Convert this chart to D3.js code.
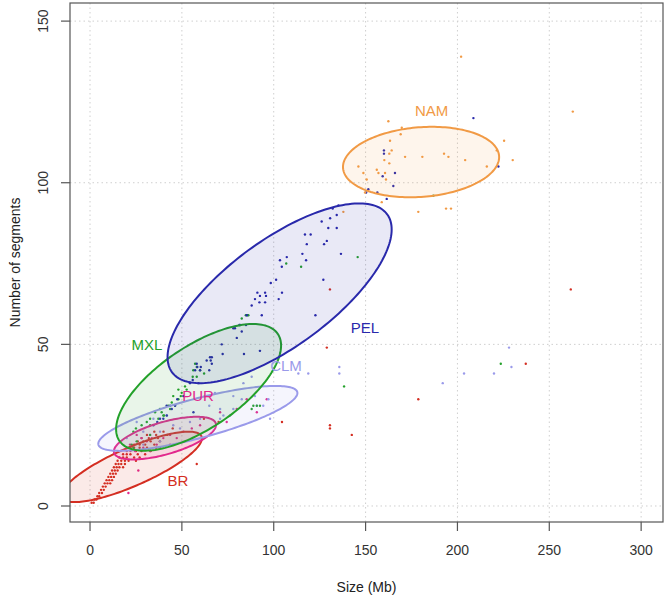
<!DOCTYPE html>
<html lang="en">
<head>
    <meta charset="UTF-8">
    <title>Segments vs size</title>
    <script src="https://d3js.org/d3.v7.min.js"></script>
    <style>
        body { margin: 0; padding: 0; background: #fff; }
        text { font-family: "Liberation Sans", Arial, sans-serif; }
        .tick-label { font-size: 14px; fill: #333; }
        .axis-title { font-size: 14px; fill: #222; }
        .pop-label { font-size: 15px; }
    </style>
</head>
<body>
<div id="chart"></div>
<script>
    // Populations, colours, ellipse summaries (mean, half-range, correlation)
    const pops = ["BR", "PUR", "CLM", "MXL", "PEL", "NAM"];
    const popColors = ["#d42e22", "#e2288c", "#9a9aea", "#23a12a", "#2929ab", "#f19a45"];
    const ellCx = [22.6, 40.8, 58.7, 59.1, 103.2, 180.2];
    const ellCy = [12.1, 21.0, 27.1, 36.7, 65.8, 106.4];
    const ellHx = [38.3, 27.8, 54.2, 44.9, 61.0, 42.5];
    const ellHy = [10.9, 6.6, 10.05, 19.6, 27.8, 10.9];
    const ellRho = [0.81, 0.62, 0.78, 0.66, 0.71, 0.14];
    const labelX = [47.9, 58.8, 106.7, 31.0, 149.7, 186.0];
    const labelY = [7.7, 34.0, 43.3, 49.8, 55.1, 122.4];

    const xTicks = [0, 50, 100, 150, 200, 250, 300];
    const yTicks = [0, 50, 100, 150];

    // points, [size Mb, number of segments]
    const brPts = [
        [0.9, 1], [2.0, 1], [2.5, 2], [3.5, 2], [4, 3], [5, 3], [5, 4], [6.5, 4], [6, 5], [7.5, 5],
        [7, 6], [8.5, 6], [8, 7], [9.5, 7], [11, 7], [9, 8], [10.5, 8], [12, 8], [10, 9], [11.5, 9],
        [13, 9], [11, 10], [12.5, 10], [14, 10], [12, 11], [13.5, 11], [15, 11], [13, 12], [14.5, 12],
        [16, 12], [18, 12], [14, 13], [15.5, 13], [17, 13], [19, 13], [15, 14], [17, 14], [19, 14],
        [21, 14], [25, 14], [16, 15], [18, 15], [20, 15], [24, 15], [27, 15], [18, 16], [20, 16],
        [22, 16], [26, 16], [30, 16], [20, 17], [22, 17], [25, 17], [28, 17], [33, 17], [22, 18],
        [24, 18], [27, 18], [31, 18], [36, 18], [24, 19], [27, 19], [30, 19], [35, 19], [26, 20],
        [29, 20], [33, 20], [38, 20], [28, 21], [32, 21], [37, 21], [31, 22], [36, 22], [42, 22],
        [35, 23], [40, 23], [45, 24], [62, 27], [70, 26], [58.1, 13],
        [104.5, 26], [128.9, 49], [130.6, 67], [130.6, 25], [130.6, 24], [142.5, 22], [178.7, 33],
        [237.2, 44], [261.7, 67]
    ];
    const purPts = [
        [25.4, 22], [28.1, 21], [30.9, 20], [33.6, 21], [36.3, 19], [39.9, 21], [43.6, 22], [47.2, 21],
        [50.8, 23], [55.4, 24], [59.9, 25], [21.8, 19], [24.5, 17], [29.0, 18], [32.7, 17], [38.1, 18],
        [43.6, 19], [26.3, 11], [74.4, 26], [70.8, 29], [79.9, 30], [85.3, 33], [96.2, 33], [90.8, 29],
        [20.9, 4]
    ];
    const clmPts = [
        [88.0, 40], [92.5, 48], [97.1, 33], [98.0, 27], [70.8, 30], [78.0, 30], [82.6, 33], [68.0, 35],
        [90.8, 31], [113.4, 41], [118.8, 41], [135.7, 43], [135.7, 41], [192.0, 38], [203.6, 41],
        [219.9, 41], [228.1, 49], [229.4, 43], [94.3, 31], [89.8, 34], [83.5, 38], [76.2, 28],
        [72.6, 28], [70.8, 27], [78.0, 34], [64.9, 31], [29.0, 23], [32.7, 22], [38.1, 23], [45.3, 25],
        [49.0, 24], [54.4, 26], [59.9, 27], [25.4, 26], [34.5, 27], [41.8, 28], [38.1, 20], [29.0, 19],
        [20.0, 21]
    ];
    const mxlPts = [
        [82.6, 58], [84.8, 59], [57.2, 44], [59.9, 42], [62.1, 41], [58.1, 40], [55.9, 40], [51.7, 37],
        [52.6, 36], [49.4, 34], [48.1, 33], [44.5, 32], [46.3, 31], [39.0, 29], [39.9, 28], [37.2, 27],
        [88.9, 31], [90.8, 31], [86.2, 59], [56.2, 42], [58.1, 43], [48.1, 36], [49.9, 35], [45.3, 34],
        [42.6, 31], [38.1, 30], [35.4, 29], [32.7, 27], [30.9, 26], [28.1, 25], [25.0, 24], [23.6, 23],
        [88.0, 30], [92.5, 31], [23.6, 18], [32.7, 25], [40.3, 28], [43.6, 30], [25.4, 20], [22.7, 19],
        [32.7, 22], [106.8, 75], [114.9, 74], [145.7, 77], [85.6, 59], [138.3, 37], [223.6, 44],
        [186.9, 96]
    ];
    const pelPts = [
        [135.2, 93], [126.1, 88], [130.7, 89], [134.3, 90], [129.7, 86], [134.3, 86], [117.0, 84],
        [120.1, 84], [118.0, 81], [127.4, 81], [128.9, 82], [115.6, 78], [117.6, 76], [136.6, 78],
        [103.4, 76], [107.1, 77], [104.4, 74], [101.3, 70], [98.4, 69], [91.1, 66], [95.3, 66],
        [92.5, 65], [95.8, 65], [89.8, 64], [92.2, 63], [95.3, 63], [88.0, 62], [104.5, 66], [102.7, 64],
        [93.5, 59], [127.0, 70], [122.7, 59], [81.7, 56], [84.9, 56], [78.9, 55], [132.1, 92],
        [83.8, 47], [72.2, 47], [66.3, 46], [65.7, 45], [64.9, 42], [58.1, 44], [60.3, 43], [92.5, 48],
        [79.9, 52], [85.3, 59], [81.3, 56], [78.0, 55], [82.6, 54], [71.7, 50], [65.3, 46], [63.5, 45],
        [66.3, 44], [58.4, 43], [59.9, 42], [57.2, 42], [55.9, 39], [59.0, 38], [54.4, 38], [50.8, 34],
        [47.5, 33], [43.6, 31], [44.5, 30], [41.8, 28], [39.9, 27], [38.1, 27], [36.6, 26], [34.5, 25],
        [41.7, 31], [46.3, 31], [56.3, 29],
        [160.0, 110], [160.0, 109], [166.0, 103], [159.3, 102], [165.1, 99], [151.5, 98], [150.3, 97],
        [156.4, 97], [161.5, 95], [208.7, 120], [222.3, 105]
    ];
    const namPts = [
        [202.0, 139], [162.4, 119], [169.7, 117], [169.1, 115], [163.3, 113], [164.2, 110], [162.9, 109],
        [160.2, 107], [162.9, 106], [171.5, 108], [180.9, 108], [192.7, 109], [195.1, 108], [204.2, 107],
        [216.0, 105], [225.4, 113], [230.1, 107], [262.8, 122], [146.1, 105], [148.8, 103], [156.1, 104],
        [157.0, 103], [160.6, 103], [150.6, 101], [161.1, 101], [149.7, 97], [158.8, 94], [178.7, 91],
        [193.8, 92], [196.5, 92], [221.4, 110], [137.9, 91]
    ];
    const popPts = [brPts, purPts, clmPts, mxlPts, pelPts, namPts];

    const width = 666, height = 597;
    const mLeft = 70, mRight = 663, mTop = 3, mBottom = 522;

    const x = d3.scaleLinear().domain([-10.9, 311.9]).range([mLeft, mRight]);
    const y = d3.scaleLinear().domain([-4.95, 155.6]).range([mBottom, mTop]);

    const svg = d3.select("#chart").append("svg")
        .attr("width", width)
        .attr("height", height);

    svg.append("clipPath").attr("id", "plotclip")
        .append("rect")
        .attr("x", mLeft).attr("y", mTop)
        .attr("width", mRight - mLeft).attr("height", mBottom - mTop);

    // grid
    const grid = svg.append("g").attr("stroke", "#cfcfcf").attr("stroke-width", 1)
        .attr("stroke-dasharray", "1.5,3");
    grid.selectAll(".gx").data(xTicks).join("line")
        .attr("class", "gx")
        .attr("x1", d => x(d)).attr("x2", d => x(d))
        .attr("y1", mTop).attr("y2", mBottom);
    grid.selectAll(".gy").data(yTicks).join("line")
        .attr("class", "gy")
        .attr("x1", mLeft).attr("x2", mRight)
        .attr("y1", d => y(d)).attr("y2", d => y(d));

    const plot = svg.append("g").attr("clip-path", "url(#plotclip)");

    // points
    popPts.forEach((pts, i) => {
        plot.append("g").attr("fill", popColors[i])
            .selectAll("circle").data(pts).join("circle")
            .attr("cx", d => x(d[0]))
            .attr("cy", d => y(d[1]))
            .attr("r", 1.2);
    });

    // ellipses
    const line = d3.line().x(d => x(d[0])).y(d => y(d[1])).curve(d3.curveLinearClosed);
    const ts = d3.range(0, 2 * Math.PI, Math.PI / 90);
    pops.forEach((p, i) => {
        const s = Math.sqrt(1 - ellRho[i] * ellRho[i]);
        const ring = ts.map(t => [
            ellCx[i] + ellHx[i] * Math.cos(t),
            ellCy[i] + ellHy[i] * (ellRho[i] * Math.cos(t) + s * Math.sin(t))
        ]);
        plot.append("path")
            .attr("d", line(ring))
            .attr("fill", popColors[i])
            .attr("fill-opacity", 0.1)
            .attr("stroke", popColors[i])
            .attr("stroke-width", 2);
    });

    // population labels
    svg.selectAll(".pop-label").data(pops).join("text")
        .attr("class", "pop-label")
        .attr("x", (d, i) => x(labelX[i]))
        .attr("y", (d, i) => y(labelY[i]))
        .attr("dy", "0.35em")
        .attr("text-anchor", "middle")
        .attr("fill", (d, i) => popColors[i])
        .text(d => d);

    // box
    svg.append("rect")
        .attr("x", mLeft).attr("y", mTop)
        .attr("width", mRight - mLeft).attr("height", mBottom - mTop)
        .attr("fill", "none").attr("stroke", "#555").attr("stroke-width", 1.2);

    // x axis
    const xa = svg.append("g").attr("transform", `translate(0,${mBottom})`);
    xa.selectAll("line").data(xTicks).join("line")
        .attr("x1", d => x(d)).attr("x2", d => x(d))
        .attr("y1", 0).attr("y2", 9)
        .attr("stroke", "#555").attr("stroke-width", 1.2);
    xa.selectAll("text").data(xTicks).join("text")
        .attr("class", "tick-label")
        .attr("x", d => x(d)).attr("y", 33)
        .attr("text-anchor", "middle")
        .text(d => d);

    // y axis
    const ya = svg.append("g").attr("transform", `translate(${mLeft},0)`);
    ya.selectAll("line").data(yTicks).join("line")
        .attr("x1", -9).attr("x2", 0)
        .attr("y1", d => y(d)).attr("y2", d => y(d))
        .attr("stroke", "#555").attr("stroke-width", 1.2);
    ya.selectAll("text").data(yTicks).join("text")
        .attr("class", "tick-label")
        .attr("transform", d => `translate(-22,${y(d)}) rotate(-90)`)
        .attr("text-anchor", "middle")
        .text(d => d);

    svg.append("text")
        .attr("class", "axis-title")
        .attr("x", (mLeft + mRight) / 2).attr("y", 592)
        .attr("text-anchor", "middle")
        .text("Size (Mb)");

    svg.append("text")
        .attr("class", "axis-title")
        .attr("transform", `translate(20,${(mTop + mBottom) / 2}) rotate(-90)`)
        .attr("text-anchor", "middle")
        .text("Number of segments");
</script>
</body>
</html>
